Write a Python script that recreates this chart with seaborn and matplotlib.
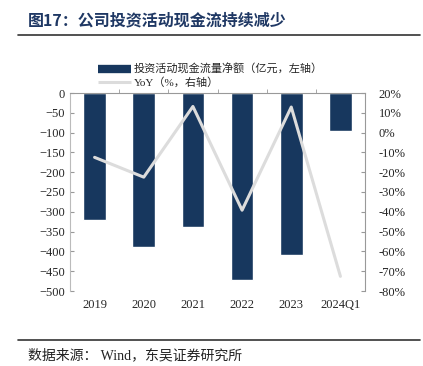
import matplotlib.pyplot as plt
import matplotlib.lines as mlines
import pandas as pd
import seaborn as sns

years = ["2019", "2020", "2021", "2022", "2023", "2024Q1"]
net_cash = [-320, -390, -338, -471, -410, -95]
yoy = [-12.5, -22.5, 13.2, -39.2, 12.9, -72.6]

bar_label = "投资活动现金流量净额（亿元，左轴）"
line_label = "YoY（%，右轴）"
title = "图17：公司投资活动现金流持续减少"
source = "数据来源： Wind，东吴证券研究所"


def main():
    sns.set_style("white")
    plt.rcParams["font.family"] = ["Liberation Serif", "Noto Sans CJK SC"]

    df = pd.DataFrame({"year": years, "cash": net_cash, "yoy": yoy})

    fig = plt.figure(figsize=(4.23, 3.66), dpi=100)
    ax = fig.add_axes([70 / 423, 1 - 291 / 366, 295 / 423, 198 / 366])

    sns.barplot(data=df, x="year", y="cash", color="#17375E", width=0.46,
                saturation=1, ax=ax)
    ax.set_ylim(-500, 0)
    ax.set_yticks(range(-500, 1, 50))
    ax.set_xlim(-0.5, len(years) - 0.5)
    ax.set_xlabel("")
    ax.set_ylabel("")
    ax.tick_params(axis="x", length=0, labelsize=9, pad=6)
    ax.tick_params(axis="y", direction="in", length=3, labelsize=9,
                   color="#999999", left=True)

    # zero line at the top, with separators between categories
    for s in ["bottom", "right"]:
        ax.spines[s].set_visible(False)
    ax.spines["top"].set_color("#999999")
    ax.spines["left"].set_color("#bbbbbb")
    ax.set_xticks([i + 0.5 for i in range(len(years) - 1)], minor=True)
    ax.tick_params(axis="x", which="minor", top=True, bottom=False,
                   direction="out", length=3, color="#999999")

    ax2 = ax.twinx()
    sns.lineplot(data=df, x="year", y="yoy", color="#DCDCDC", linewidth=2.2,
                 ax=ax2, sort=False)
    ax2.set_ylim(-80, 20)
    ax2.set_yticks(range(-80, 21, 10))
    ax2.set_yticklabels([f"{v}%" for v in range(-80, 21, 10)])
    ax2.set_ylabel("")
    ax2.tick_params(axis="y", direction="in", length=3, labelsize=9,
                    color="#999999", right=True, pad=10)
    for s in ["top", "bottom", "left"]:
        ax2.spines[s].set_visible(False)
    ax2.spines["right"].set_color("#999999")

    handles = [
        mlines.Line2D([], [], color="#17375E", linewidth=6,
                      solid_capstyle="butt"),
        mlines.Line2D([], [], color="#DCDCDC", linewidth=2.2,
                      solid_capstyle="butt"),
    ]
    fig.legend(handles, [bar_label, line_label], loc="upper left",
               bbox_to_anchor=(88 / 423, 1 - 54 / 366), frameon=False,
               handlelength=3.0, handletextpad=0.2, labelspacing=0.15,
               prop={"family": ["Liberation Serif", "Noto Sans CJK SC"],
                     "size": 8})

    fig.text(28 / 423, 1 - 20 / 366, title, fontsize=11.5, fontweight="bold",
             color="#1F3864", va="center",
             family=["Noto Sans CJK SC", "DejaVu Sans"])
    fig.add_artist(mlines.Line2D([18 / 423, 420 / 423], [1 - 35 / 366] * 2,
                                 color="#333333", linewidth=1.2))
    fig.add_artist(mlines.Line2D([18 / 423, 420 / 423], [1 - 340 / 366] * 2,
                                 color="#333333", linewidth=1.2))
    fig.text(28 / 423, 1 - 355 / 366, source, fontsize=10, color="#222222",
             va="center", family=["Liberation Serif", "Noto Sans CJK SC"])

    fig.savefig("out.png", dpi=100)


if __name__ == '__main__':
    main()
